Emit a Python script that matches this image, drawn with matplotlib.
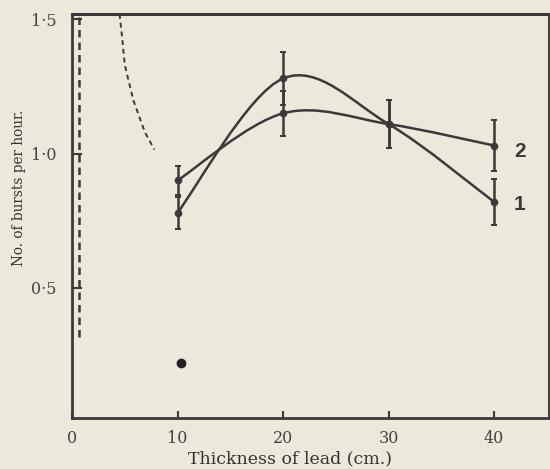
import matplotlib.pyplot as plt
from matplotlib.path import Path
from matplotlib.patches import PathPatch

# thickness of lead (cm) and bursts per hour
thickness = [10, 20, 30, 40]
bursts_1 = [0.78, 1.28, 1.11, 0.82]
err_1 = [0.06, 0.10, 0.09, 0.085]
bursts_2 = [0.90, 1.15, 1.11, 1.03]
err_2 = [0.055, 0.085, 0.09, 0.095]
lone_x = [10.3]
lone_y = [0.22]

# dashed guide curves
wall_x = [0.65, 0.65]
wall_y = [1.51, 0.30]
decay_x = [4.5, 4.7, 5.0, 5.8, 6.9, 7.8]
decay_y = [1.52, 1.45, 1.33, 1.20, 1.08, 1.015]

x_labels = ["0", "10", "20", "30", "40"]
y_labels = ["0\u00b75", "1\u00b70", "1\u00b75"]

ink = "#3a3a3a"
paper = "#ece8dc"
serif = ["DejaVu Serif"]


def smooth_path(xs, ys):
    # catmull-rom through the points, as bezier segments
    px = [xs[0]] + list(xs) + [xs[-1]]
    py = [ys[0]] + list(ys) + [ys[-1]]
    verts = [(xs[0], ys[0])]
    codes = [Path.MOVETO]
    for i in range(1, len(px) - 2):
        c1 = (px[i] + (px[i + 1] - px[i - 1]) / 6, py[i] + (py[i + 1] - py[i - 1]) / 6)
        c2 = (px[i + 1] - (px[i + 2] - px[i]) / 6, py[i + 1] - (py[i + 2] - py[i]) / 6)
        verts += [c1, c2, (px[i + 1], py[i + 1])]
        codes += [Path.CURVE4] * 3
    return Path(verts, codes)


fig = plt.figure(figsize=(5.5, 4.69), dpi=100, facecolor=paper)
ax = fig.add_axes([0.131, 0.109, 0.867, 0.861], facecolor=paper)

for ys, es in [(bursts_1, err_1), (bursts_2, err_2)]:
    ax.add_patch(PathPatch(smooth_path(thickness, ys), fill=False, ec=ink, lw=1.8))
    ax.errorbar(thickness, ys, yerr=es, fmt="o", color=ink, ms=4.5, elinewidth=1.8,
                capsize=2.5, capthick=1.4)

ax.plot(lone_x, lone_y, "o", color="#222222", ms=6)
ax.plot(wall_x, wall_y, ls=(0, (3, 2)), color=ink, lw=1.8)
ax.plot(decay_x, decay_y, ls=(0, (2.5, 2)), color=ink, lw=1.4)

ax.text(42.45, 1.007, "2", fontsize=15, fontweight="bold", family="Liberation Sans",
        color=ink, ha="center", va="center")
ax.text(42.45, 0.81, "1", fontsize=15, fontweight="bold", family="Liberation Sans",
        color=ink, ha="center", va="center")

ax.set_xlim(0.2, 45.2)
ax.set_ylim(0.015, 1.52)
ax.set_xticks([0, 10, 20, 30, 40])
ax.set_xticklabels(x_labels, family=serif, fontsize=11.5, color="#444444")
ax.set_yticks([0.5, 1.0, 1.5])
ax.set_yticklabels(y_labels, family=serif, fontsize=11.5, color="#444444")
ax.tick_params(axis="y", direction="in", length=7, width=1.5, color=ink, pad=11)
ax.tick_params(axis="x", direction="in", length=5, width=1.5, color=ink, pad=9)
for s in ax.spines.values():
    s.set_color(ink)
    s.set_linewidth(2)
ax.spines["right"].set_linewidth(1.4)
ax.spines["top"].set_linewidth(2.2)

fig.text(0.527, 0.021, "Thickness of lead (cm.)", family=serif, fontsize=12.5,
         color="#333333", ha="center", va="center")
fig.text(0.034, 0.600, "No. of bursts per hour.", family=serif, fontsize=9.8,
         color="#333333", ha="center", va="center", rotation=90)

fig.savefig("out.png", dpi=100, facecolor=paper)
